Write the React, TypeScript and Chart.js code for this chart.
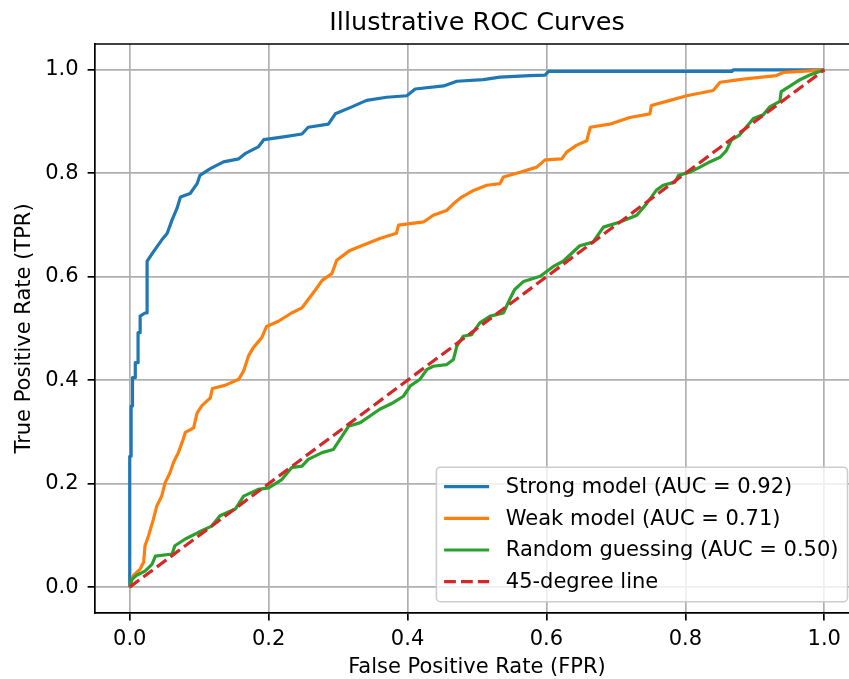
import React, { useEffect, useRef } from "react";
import { Chart, registerables } from "chart.js";

Chart.register(...registerables);

// ---- Data ----
const strongFpr = [0, 0, 0.002, 0.002, 0.004, 0.004, 0.008, 0.008, 0.012, 0.012, 0.015, 0.015, 0.022, 0.025, 0.025, 0.034, 0.046, 0.054, 0.061, 0.068, 0.073, 0.087, 0.097, 0.101, 0.116, 0.135, 0.157, 0.166, 0.185, 0.193, 0.219, 0.248, 0.257, 0.286, 0.296, 0.319, 0.341, 0.370, 0.399, 0.411, 0.452, 0.471, 0.509, 0.533, 0.576, 0.598, 0.603, 0.867, 0.869, 1.0];
const strongTpr = [0, 0.253, 0.253, 0.35, 0.35, 0.405, 0.405, 0.434, 0.434, 0.492, 0.492, 0.524, 0.53, 0.53, 0.63, 0.648, 0.671, 0.684, 0.71, 0.732, 0.754, 0.761, 0.78, 0.796, 0.809, 0.822, 0.828, 0.838, 0.851, 0.865, 0.87, 0.876, 0.889, 0.895, 0.915, 0.928, 0.941, 0.947, 0.95, 0.963, 0.969, 0.978, 0.981, 0.986, 0.989, 0.99, 0.997, 0.997, 1.0, 1.0];

const weakFpr = [0, 0.005, 0.015, 0.020, 0.022, 0.027, 0.034, 0.039, 0.046, 0.051, 0.058, 0.063, 0.070, 0.077, 0.080, 0.092, 0.097, 0.104, 0.116, 0.119, 0.137, 0.157, 0.164, 0.171, 0.178, 0.190, 0.197, 0.214, 0.233, 0.248, 0.257, 0.267, 0.277, 0.291, 0.298, 0.317, 0.341, 0.360, 0.384, 0.387, 0.423, 0.437, 0.456, 0.466, 0.478, 0.495, 0.514, 0.533, 0.538, 0.562, 0.586, 0.598, 0.622, 0.629, 0.643, 0.658, 0.663, 0.691, 0.720, 0.749, 0.751, 0.778, 0.802, 0.840, 0.850, 0.883, 0.931, 0.941, 0.979, 1.0];
const weakTpr = [0, 0.022, 0.035, 0.048, 0.080, 0.099, 0.131, 0.157, 0.176, 0.202, 0.221, 0.241, 0.260, 0.286, 0.299, 0.308, 0.337, 0.351, 0.366, 0.384, 0.390, 0.402, 0.418, 0.447, 0.463, 0.482, 0.504, 0.514, 0.530, 0.540, 0.556, 0.574, 0.593, 0.606, 0.632, 0.651, 0.664, 0.674, 0.684, 0.700, 0.706, 0.719, 0.728, 0.741, 0.754, 0.767, 0.777, 0.780, 0.793, 0.802, 0.812, 0.826, 0.828, 0.841, 0.854, 0.863, 0.889, 0.895, 0.908, 0.915, 0.931, 0.941, 0.950, 0.960, 0.976, 0.982, 0.989, 0.995, 0.998, 1.0];

const randomFpr = [0, 0.003, 0.010, 0.022, 0.032, 0.037, 0.061, 0.065, 0.080, 0.099, 0.118, 0.130, 0.152, 0.164, 0.185, 0.200, 0.219, 0.233, 0.248, 0.257, 0.277, 0.293, 0.303, 0.315, 0.332, 0.360, 0.380, 0.394, 0.404, 0.418, 0.428, 0.437, 0.456, 0.466, 0.471, 0.480, 0.492, 0.504, 0.519, 0.538, 0.547, 0.554, 0.567, 0.591, 0.610, 0.624, 0.648, 0.667, 0.682, 0.706, 0.730, 0.744, 0.758, 0.768, 0.785, 0.790, 0.806, 0.821, 0.835, 0.850, 0.859, 0.866, 0.878, 0.888, 0.898, 0.912, 0.922, 0.936, 0.938, 0.950, 0.965, 0.979, 1.0];
const randomTpr = [0, 0.015, 0.023, 0.031, 0.044, 0.060, 0.064, 0.080, 0.093, 0.106, 0.118, 0.138, 0.151, 0.176, 0.189, 0.192, 0.208, 0.231, 0.234, 0.247, 0.260, 0.266, 0.286, 0.311, 0.318, 0.344, 0.357, 0.369, 0.389, 0.402, 0.421, 0.427, 0.430, 0.440, 0.466, 0.485, 0.488, 0.511, 0.524, 0.530, 0.556, 0.575, 0.591, 0.601, 0.620, 0.630, 0.660, 0.667, 0.696, 0.706, 0.719, 0.741, 0.767, 0.777, 0.783, 0.796, 0.802, 0.812, 0.822, 0.831, 0.844, 0.864, 0.874, 0.890, 0.906, 0.913, 0.929, 0.939, 0.958, 0.968, 0.981, 0.990, 1.0];

const diagFpr = [0, 1];
const diagTpr = [0, 1];

const tickValues = [0, 0.2, 0.4, 0.6, 0.8, 1.0];
const seriesLabels = [
  "Strong model (AUC = 0.92)",
  "Weak model (AUC = 0.71)",
  "Random guessing (AUC = 0.50)",
  "45-degree line",
];
const seriesColors = ["#1f77b4", "#ff7f0e", "#2ca02c", "#d62728"];
const titleText = "Illustrative ROC Curves";
const xTitle = "False Positive Rate (FPR)";
const yTitle = "True Positive Rate (TPR)";

const FONT = "'DejaVu Sans', sans-serif";
const LW = 3.2;
const DASH = [11.8, 5.1];

const toPts = (xs: number[], ys: number[]) => xs.map((x, i) => ({ x, y: ys[i] }));

const framePlugin = {
  id: "topSpine",
  beforeDatasetsDraw(chart: any) {
    const { ctx, chartArea: ca } = chart;
    ctx.save();
    ctx.strokeStyle = "#000";
    ctx.lineWidth = 1.7;
    ctx.beginPath();
    ctx.moveTo(ca.left, ca.top);
    ctx.lineTo(ca.right, ca.top);
    ctx.stroke();
    ctx.restore();
  },
};

const legendPlugin = {
  id: "insideLegend",
  afterDatasetsDraw(chart: any) {
    const { ctx, chartArea: ca } = chart;
    const ds = chart.data.datasets;
    ctx.save();
    ctx.font = `21px ${FONT}`;
    const maxW = Math.max(...ds.map((d: any) => ctx.measureText(d.label).width));
    const right = ca.right - 11.5;
    const bottom = ca.bottom - 11.3;
    const w = 7.7 + 45 + 16.7 + maxW + 9;
    const step = 31.7;
    const h = 19.4 + step * (ds.length - 1) + 20;
    const left = right - w;
    const top = bottom - h;
    ctx.beginPath();
    ctx.roundRect(left, top, w, h, 4);
    ctx.fillStyle = "rgba(255,255,255,0.8)";
    ctx.fill();
    ctx.strokeStyle = "#cccccc";
    ctx.lineWidth = 1.5;
    ctx.stroke();
    ds.forEach((d: any, i: number) => {
      const y = top + 19.4 + i * step;
      ctx.beginPath();
      ctx.setLineDash(d.borderDash || []);
      ctx.strokeStyle = d.borderColor;
      ctx.lineWidth = LW;
      ctx.moveTo(left + 7.7, y);
      ctx.lineTo(left + 52.7, y);
      ctx.stroke();
      ctx.setLineDash([]);
      ctx.fillStyle = "#000";
      ctx.textBaseline = "middle";
      ctx.textAlign = "left";
      ctx.fillText(d.label, left + 69.4, y + 1);
    });
    ctx.restore();
  },
};

export default function App() {
  const ref = useRef<HTMLCanvasElement | null>(null);
  useEffect(() => {
    if (!ref.current) return;
    const setTicks = (s: any) => {
      s.ticks = tickValues.map((v) => ({ value: v }));
    };
    const chart = new Chart(ref.current, {
      type: "scatter",
      data: {
        datasets: [
          { label: seriesLabels[0], data: toPts(strongFpr, strongTpr), borderColor: seriesColors[0], order: 3 },
          { label: seriesLabels[1], data: toPts(weakFpr, weakTpr), borderColor: seriesColors[1], order: 2 },
          { label: seriesLabels[2], data: toPts(randomFpr, randomTpr), borderColor: seriesColors[2], order: 1 },
          { label: seriesLabels[3], data: toPts(diagFpr, diagTpr), borderColor: seriesColors[3], borderDash: DASH, order: 0 },
        ].map((d) => ({
          ...d,
          showLine: true,
          pointRadius: 0,
          pointHoverRadius: 0,
          borderWidth: LW,
          tension: 0,
          fill: false,
          backgroundColor: d.borderColor,
          borderJoinStyle: "round" as const,
          borderCapStyle: "butt" as const,
        })),
      },
      options: {
        animation: false,
        responsive: false,
        devicePixelRatio: 1,
        layout: { padding: { left: 0, right: 1, top: 0, bottom: 0 } },
        plugins: {
          legend: { display: false },
          tooltip: { enabled: false },
          title: {
            display: true,
            text: titleText,
            fullSize: false,
            color: "#000",
            font: { family: FONT, size: 25.5, weight: "normal", lineHeight: 1.2 },
            padding: { top: 8, bottom: 5.4 },
          },
        },
        scales: {
          x: {
            type: "linear",
            min: -0.05,
            max: 1.05,
            afterBuildTicks: setTicks,
            afterFit: (s: any) => {
              s.height = 66;
            },
            ticks: {
              color: "#000",
              font: { family: FONT, size: 21 },
              padding: 7,
              maxRotation: 0,
              autoSkip: false,
              callback: (v: any) => Number(v).toFixed(1),
            },
            grid: {
              color: "#b0b0b0",
              lineWidth: 1.7,
              tickColor: "#000",
              tickLength: 7.4,
              tickWidth: 1.7,
            },
            border: { display: true, color: "#000", width: 1.7 },
            title: {
              display: true,
              text: xTitle,
              color: "#000",
              font: { family: FONT, size: 21, lineHeight: 1.1 },
              padding: { top: 0, bottom: 0 },
            },
          },
          y: {
            type: "linear",
            min: -0.05,
            max: 1.05,
            afterBuildTicks: setTicks,
            afterFit: (s: any) => {
              s.width = 95;
            },
            ticks: {
              color: "#000",
              font: { family: FONT, size: 21 },
              padding: 9,
              autoSkip: false,
              callback: (v: any) => Number(v).toFixed(1),
            },
            grid: {
              color: "#b0b0b0",
              lineWidth: 1.7,
              tickColor: "#000",
              tickLength: 7.4,
              tickWidth: 1.7,
            },
            border: { display: true, color: "#000", width: 1.7 },
            title: {
              display: true,
              text: yTitle,
              color: "#000",
              font: { family: FONT, size: 21, lineHeight: 1.2 },
              padding: { top: 12.4, bottom: 0 },
            },
          },
        },
      },
      plugins: [framePlugin, legendPlugin],
    } as any);
    return () => chart.destroy();
  }, []);

  return (
    <div
      style={{
        position: "fixed",
        left: 0,
        top: 0,
        width: 849,
        height: 679,
        overflow: "hidden",
        background: "#fff",
      }}
    >
      <canvas ref={ref} width={860} height={679} style={{ display: "block", width: 860, height: 679 }} />
    </div>
  );
}
